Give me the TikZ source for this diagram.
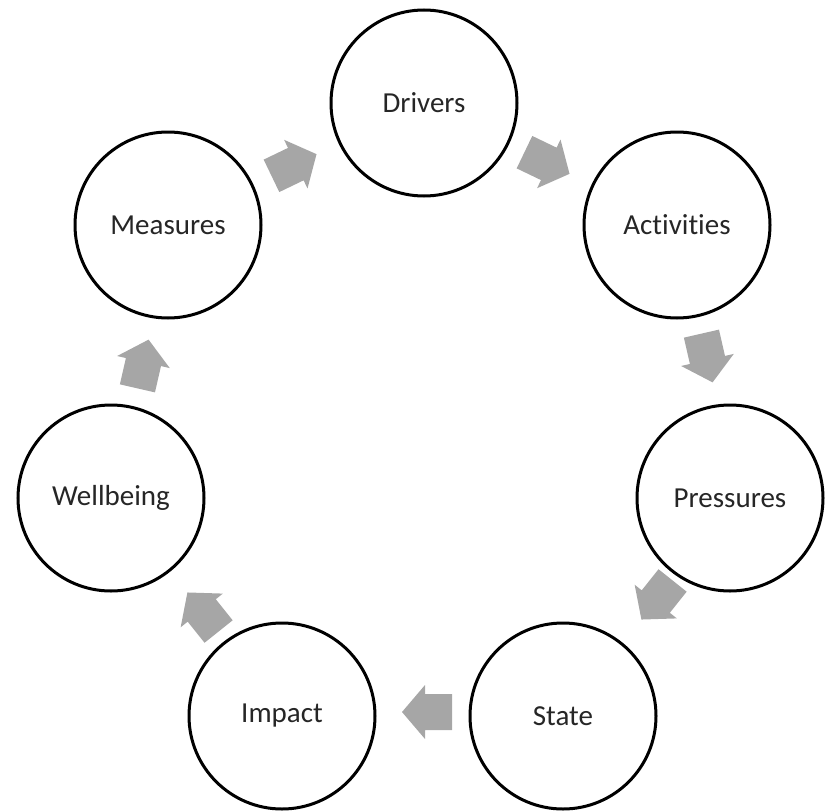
\documentclass[tikz,border=0pt]{standalone}
\usepackage{fontspec}
\setmainfont{Carlito}[Ligatures=CommonOff]
\definecolor{arrowgray}{HTML}{A6A6A6}
\begin{document}
\begin{tikzpicture}[x=1pt,y=-1pt,
  stage/.style={circle,draw=black,line width=3pt,minimum size=186pt,inner sep=0pt,
    font=\fontsize{29}{34}\selectfont,text=black!85},
  blockarrow/.pic={\fill[arrowgray] (-25,-18) -- (2,-18) -- (2,-27) -- (25,0) -- (2,27) -- (2,18) -- (-25,18) -- cycle;}]
\useasboundingbox (0,0) rectangle (825,811);
\node[stage] (drv) at (424,103) {Drivers};
\node[stage] (act) at (677,225) {Activities};
\node[stage] (prs) at (730,498) {Pressures};
\node[stage] (sta) at (563,716) {State};
\node[stage] (imp) at (282,716) {Impact};
\node[stage] (wel) at (111,498) {Wellbeing};
\node[stage] (mea) at (168,225) {Measures};
\pic[rotate=25.7] (a1) at (294,165) {blockarrow};
\pic[rotate=-25.7] (a2) at (547,163) {blockarrow};
\pic[rotate=-77.1] (a3) at (707,358) {blockarrow};
\pic[rotate=-128.6] (a4) at (657,600) {blockarrow};
\pic[rotate=180] (a5) at (427,712) {blockarrow};
\pic[rotate=128.6] (a6) at (203,612) {blockarrow};
\pic[rotate=77.1] (a7) at (143,364) {blockarrow};
\end{tikzpicture}
\end{document}
